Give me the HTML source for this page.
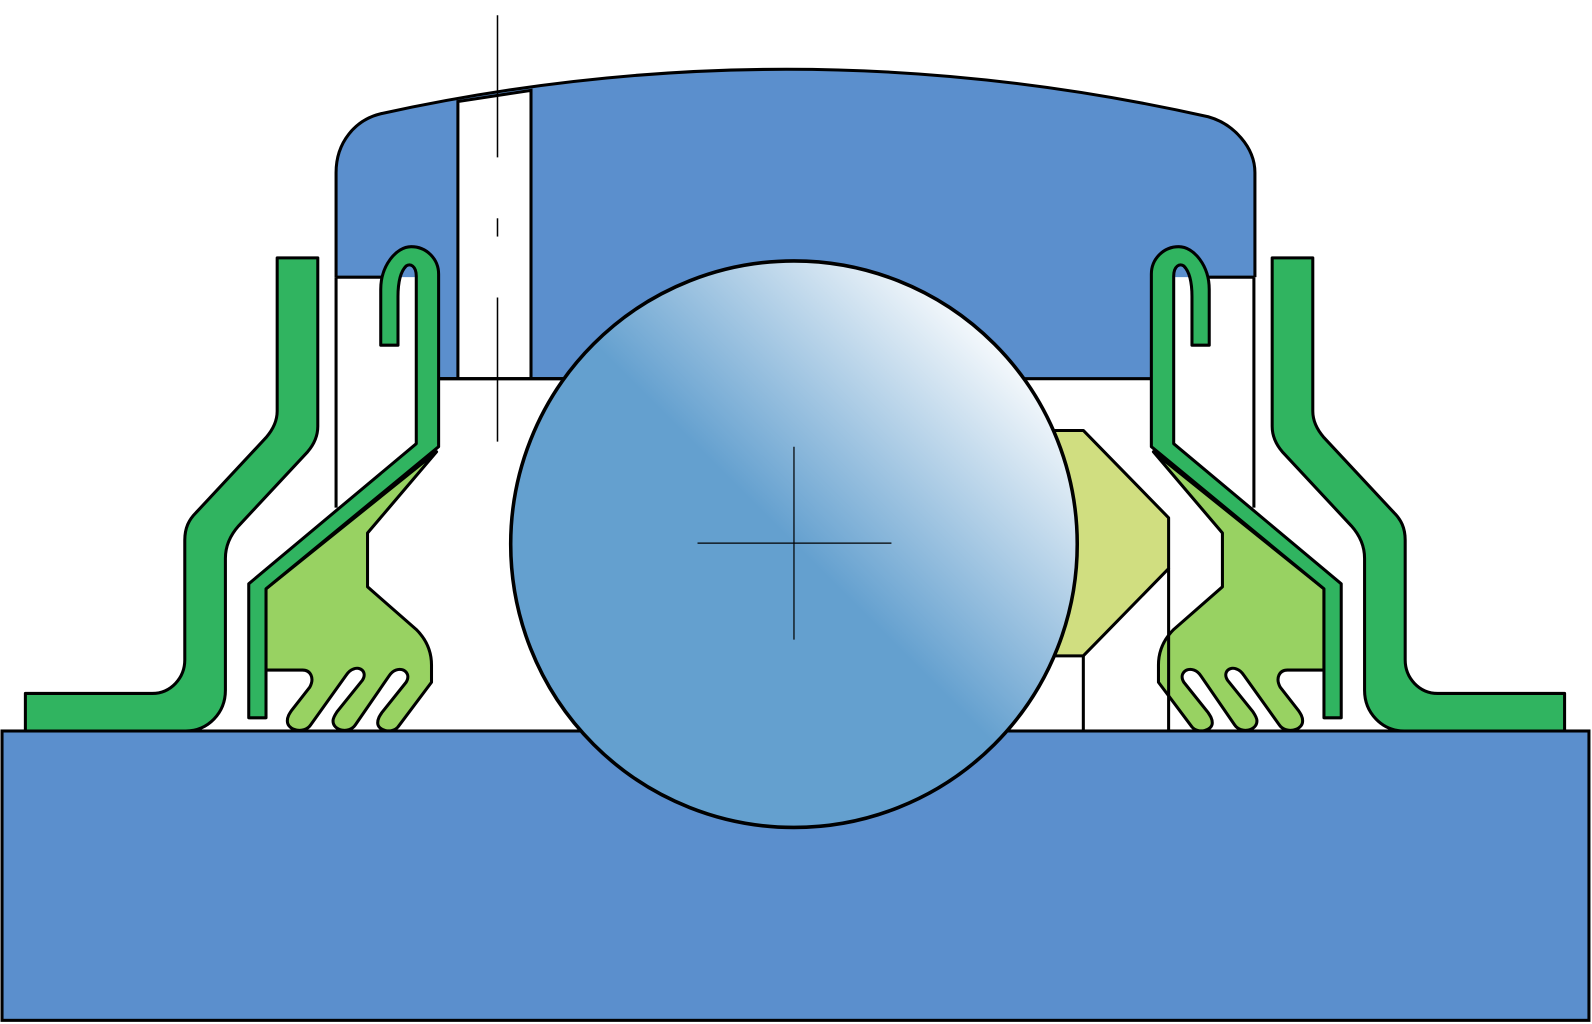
<!DOCTYPE html>
<html><head><meta charset="utf-8"><style>html,body{margin:0;padding:0;background:#fff}svg{display:block}</style></head>
<body>
<svg width="1592" height="1024" viewBox="0 0 1568 1008.6" preserveAspectRatio="none" xmlns="http://www.w3.org/2000/svg">
<defs>
<linearGradient id="bg" x1="1" y1="0" x2="0" y2="1">
<stop offset="0.12" stop-color="#ffffff"/>
<stop offset="0.5" stop-color="#64a0cf"/>
<stop offset="1" stop-color="#64a0cf"/>
</linearGradient>
<g id="side" stroke="#000" stroke-width="3" stroke-linejoin="round">
<!-- housing lower wall lines -->
<line x1="331" y1="273" x2="331" y2="500" fill="none"/>
<line x1="331" y1="273" x2="385" y2="273" fill="none"/>
<line x1="432" y1="373" x2="560" y2="373" fill="none"/>
<!-- outer flange -->
<path fill="#30b460" d="M273,254 L313,254 L313,420 C313,430 309,438 303,445 L235,518 C227,527 222,537 222,550 L222,680 C222,702 205,720 183,720 L25,720 L25,683 L150,683 C168,683 182,668 182,650 L182,532 C182,520 186,512 193,505 L262,431 C269,423 273,415 273,405 Z"/>
<!-- light green seal lip -->
<path fill="#98d262" d="M430,445 L362,525 L362,578 L410,620 C420,630 425,642 425,655 L425,672 L392,716 C386,723 372,720 372,712 C372,708 374,705 376,702 L400,672 C405,664 398,657 390,660 C387,661 385,663 383,666 L350,714 C344,723 328,720 328,710 C328,707 330,704 332,701 L357,670 C362,662 355,656 348,659 C345,660 343,662 341,665 L306,714 C300,723 283,720 283,710 C283,706 285,703 287,700 L305,677 C310,668 306,660 298,660 L262,660 L262,580 Z"/>
<!-- sheet insert with hook -->
<path fill="#30b460" d="M375,340 L375,285 C375,262 390,243 405,243 C420,243 432,255 432,270 L432,440 L262,580 L262,707 L245,707 L245,575 L410,437 L410,272 C410,262 404,259 400,262 C394,268 392,280 392,292 L392,340 Z"/>
</g>
</defs>
<!-- base -->
<rect x="2" y="720" width="1563" height="285" fill="#5b8fcd" stroke="#000" stroke-width="3"/>
<!-- housing blue -->
<path fill="#5b8fcd" stroke="none" d="M331,273 L331,170 C331,140 350,118 375,112 Q780,23 1190,115 C1215,122 1236,145 1236,170 L1236,273 L1133,273 L1133,373 L432,373 L432,273 Z"/>
<path fill="none" stroke="#000" stroke-width="3" d="M331,273 L331,170 C331,140 350,118 375,112 Q780,23 1190,115 C1215,122 1236,145 1236,170 L1236,273"/>
<!-- oil hole -->
<path fill="#fff" stroke="#000" stroke-width="3" d="M451,373 L451,100 L523,89 L523,373"/>
<line x1="432" y1="373" x2="560" y2="373" stroke="#000" stroke-width="3"/>
<g stroke="#000" stroke-width="1.5">
<line x1="490" y1="15" x2="490" y2="155"/>
<line x1="490" y1="215" x2="490" y2="233"/>
<line x1="490" y1="293" x2="490" y2="435"/>
</g>
<use href="#side"/>
<use href="#side" transform="translate(1566,0) scale(-1,1)"/>
<!-- right cage -->
<path fill="#d0de80" stroke="#000" stroke-width="3" stroke-linejoin="round" d="M1030,424 L1067,424 L1151,510 L1151,560 L1067,646 L1030,646"/>
<line x1="1067" y1="646" x2="1067" y2="720" stroke="#000" stroke-width="3"/>
<line x1="1151" y1="560" x2="1151" y2="720" stroke="#000" stroke-width="3"/>
<!-- ball -->
<circle cx="782" cy="536" r="279" fill="url(#bg)" stroke="#000" stroke-width="3.5"/>
<line x1="687" y1="535" x2="878" y2="535" stroke="#000" stroke-width="1.2"/>
<line x1="782" y1="440" x2="782" y2="630" stroke="#000" stroke-width="1.2"/>
</svg>
</body></html>
